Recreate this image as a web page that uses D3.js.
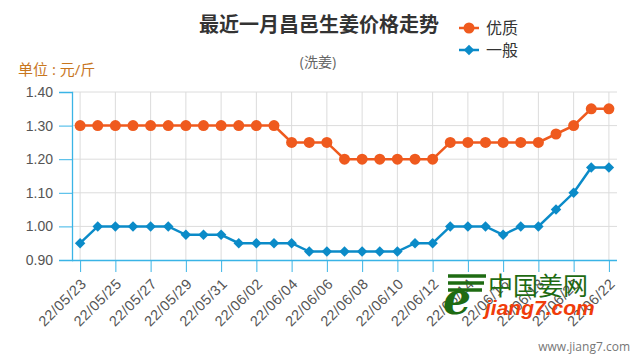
<!DOCTYPE html>
<html>
<head>
<meta charset="utf-8">
<script src="https://cdn.jsdelivr.net/npm/d3@7"></script>
<style>
  body { margin: 0; background: #fff; }
  svg { font-family: "Open Sans", "Noto Sans CJK SC", sans-serif; }
</style>
</head>
<body>
<div id="chart"></div>
<script>
// chart data
const dates = ["22/05/23","22/05/24","22/05/25","22/05/26","22/05/27","22/05/28","22/05/29","22/05/30","22/05/31",
  "22/06/01","22/06/02","22/06/03","22/06/04","22/06/05","22/06/06","22/06/07","22/06/08","22/06/09","22/06/10",
  "22/06/11","22/06/12","22/06/13","22/06/14","22/06/15","22/06/16","22/06/17","22/06/18","22/06/19","22/06/20",
  "22/06/21","22/06/22"];
const premium = [1.30,1.30,1.30,1.30,1.30,1.30,1.30,1.30,1.30,1.30,1.30,1.30,1.25,1.25,1.25,1.20,
  1.20,1.20,1.20,1.20,1.20,1.25,1.25,1.25,1.25,1.25,1.25,1.275,1.30,1.35,1.35];
const general = [0.95,1.00,1.00,1.00,1.00,1.00,0.975,0.975,0.975,0.95,0.95,0.95,0.95,0.925,0.925,0.925,
  0.925,0.925,0.925,0.95,0.95,1.00,1.00,1.00,0.975,1.00,1.00,1.05,1.10,1.175,1.175];
const yTicks = [0.90, 1.00, 1.10, 1.20, 1.30, 1.40];
const seriesNames = ["优质", "一般"];

const width = 640, height = 360;
const margin = {top: 92, right: 23, bottom: 100, left: 72};
const orange = "#ef5a1e", blue = "#0b8bc8", axisBlue = "#3ab4e6";

const svg = d3.select("#chart").append("svg")
  .attr("width", width).attr("height", height);

const x = d3.scalePoint()
  .domain(dates)
  .range([margin.left, width - margin.right])
  .padding(0.46);

const y = d3.scaleLinear()
  .domain([0.9, 1.4])
  .range([height - margin.bottom, margin.top]);

const tickDates = dates.filter((d, i) => i % 2 === 0);

// grid
svg.append("g")
  .selectAll("line.h")
  .data(yTicks.slice(1))
  .join("line")
    .attr("x1", margin.left).attr("x2", width - margin.right)
    .attr("y1", d => y(d)).attr("y2", d => y(d))
    .attr("stroke", "#dcdcdc").attr("stroke-width", 1);
svg.append("g")
  .selectAll("line.v")
  .data(tickDates)
  .join("line")
    .attr("x1", d => x(d)).attr("x2", d => x(d))
    .attr("y1", margin.top).attr("y2", height - margin.bottom)
    .attr("stroke", "#dcdcdc").attr("stroke-width", 1);

// y axis
const yAxis = svg.append("g")
  .attr("transform", `translate(${margin.left},0)`)
  .call(d3.axisLeft(y).tickValues(yTicks).tickFormat(d3.format(".2f")).tickSize(13).tickPadding(6));
yAxis.select(".domain").attr("stroke", axisBlue).attr("stroke-width", 1.3);
yAxis.selectAll(".tick line").attr("stroke", axisBlue);
yAxis.selectAll("text").attr("fill", "#555").style("font-size", "14px");

// x axis
const xAxis = svg.append("g")
  .attr("transform", `translate(0,${height - margin.bottom})`)
  .call(d3.axisBottom(x).tickValues(tickDates).tickSize(12).tickSizeOuter(0));
xAxis.select(".domain").attr("stroke", axisBlue).attr("stroke-width", 1.3)
  .attr("d", `M${margin.left},0.5H${width - margin.right}`);
xAxis.selectAll(".tick line").attr("stroke", axisBlue);
xAxis.selectAll("text")
  .attr("fill", "#555")
  .style("font-size", "14.5px")
  .style("letter-spacing", "0.5px")
  .style("text-anchor", "end")
  .attr("x", 0).attr("y", 0)
  .attr("dy", "0.35em")
  .attr("transform", "translate(3,21) rotate(-45)");

// lines
const line = d3.line().x((d, i) => x(dates[i])).y(d => y(d));

svg.append("path").datum(premium)
  .attr("d", line).attr("fill", "none").attr("stroke", orange).attr("stroke-width", 2.5);
svg.append("g").selectAll("circle")
  .data(premium)
  .join("circle")
    .attr("cx", (d, i) => x(dates[i])).attr("cy", d => y(d))
    .attr("r", 5.5).attr("fill", orange);

svg.append("path").datum(general)
  .attr("d", line).attr("fill", "none").attr("stroke", blue).attr("stroke-width", 2.5);
const diamond = d3.symbol().type(d3.symbolDiamond2).size(70);
svg.append("g").selectAll("path")
  .data(general)
  .join("path")
    .attr("transform", (d, i) => `translate(${x(dates[i])},${y(d)})`)
    .attr("d", diamond).attr("fill", blue);

// titles
svg.append("text")
  .attr("x", 319).attr("y", 32)
  .attr("text-anchor", "middle")
  .style("font-size", "20px").style("font-weight", "bold")
  .attr("fill", "#333")
  .text("最近一月昌邑生姜价格走势");
svg.append("text")
  .attr("x", 318).attr("y", 67)
  .attr("text-anchor", "middle")
  .style("font-size", "14px")
  .attr("fill", "#666")
  .text("(洗姜)");
svg.append("text")
  .attr("x", 18).attr("y", 75)
  .style("font-size", "15px")
  .attr("fill", "#c8761e")
  .text("单位 : 元/斤");

// legend
const legend = svg.append("g");
const legendItems = [
  {name: seriesNames[0], color: orange, sym: d3.symbolCircle, size: 95, y: 28},
  {name: seriesNames[1], color: blue, sym: d3.symbolDiamond2, size: 70, y: 50}
];
legendItems.forEach(it => {
  legend.append("line")
    .attr("x1", 459).attr("x2", 479)
    .attr("y1", it.y).attr("y2", it.y)
    .attr("stroke", it.color).attr("stroke-width", 2.5);
  legend.append("path")
    .attr("transform", `translate(469,${it.y})`)
    .attr("d", d3.symbol().type(it.sym).size(it.size))
    .attr("fill", it.color);
  legend.append("text")
    .attr("x", 486).attr("y", it.y + 6)
    .style("font-size", "16px")
    .attr("fill", "#333")
    .text(it.name);
});

// watermark
const wm = svg.append("g");
wm.append("text")
  .attr("x", 443).attr("y", 314)
  .style("font-size", "44px").style("font-weight", "bold").style("font-style", "italic")
  .style("font-family", "DejaVu Serif, serif")
  .attr("fill", "#1e6b12")
  .text("e");
[276, 283, 290].forEach((yy, i) => {
  wm.append("line")
    .attr("x1", 448).attr("x2", 486 - i * 2)
    .attr("y1", yy).attr("y2", yy)
    .attr("stroke", "#1e6b12").attr("stroke-width", 3.5);
});
wm.append("text")
  .attr("x", 488).attr("y", 295)
  .style("font-size", "25px")
  .style("font-family", "Noto Sans CJK SC, sans-serif")
  .attr("fill", "#1e6b12")
  .text("中国姜网");
wm.append("text")
  .attr("x", 485).attr("y", 315)
  .style("font-size", "21px").style("font-weight", "bold").style("font-style", "italic")
  .style("font-family", "Liberation Sans, Arial, sans-serif")
  .attr("fill", "#f03c0a")
  .text("jiang7.com");
svg.append("text")
  .attr("x", 630).attr("y", 351)
  .attr("text-anchor", "end")
  .style("font-size", "12px")
  .attr("fill", "#777")
  .text("www.jiang7.com");
</script>
</body>
</html>
